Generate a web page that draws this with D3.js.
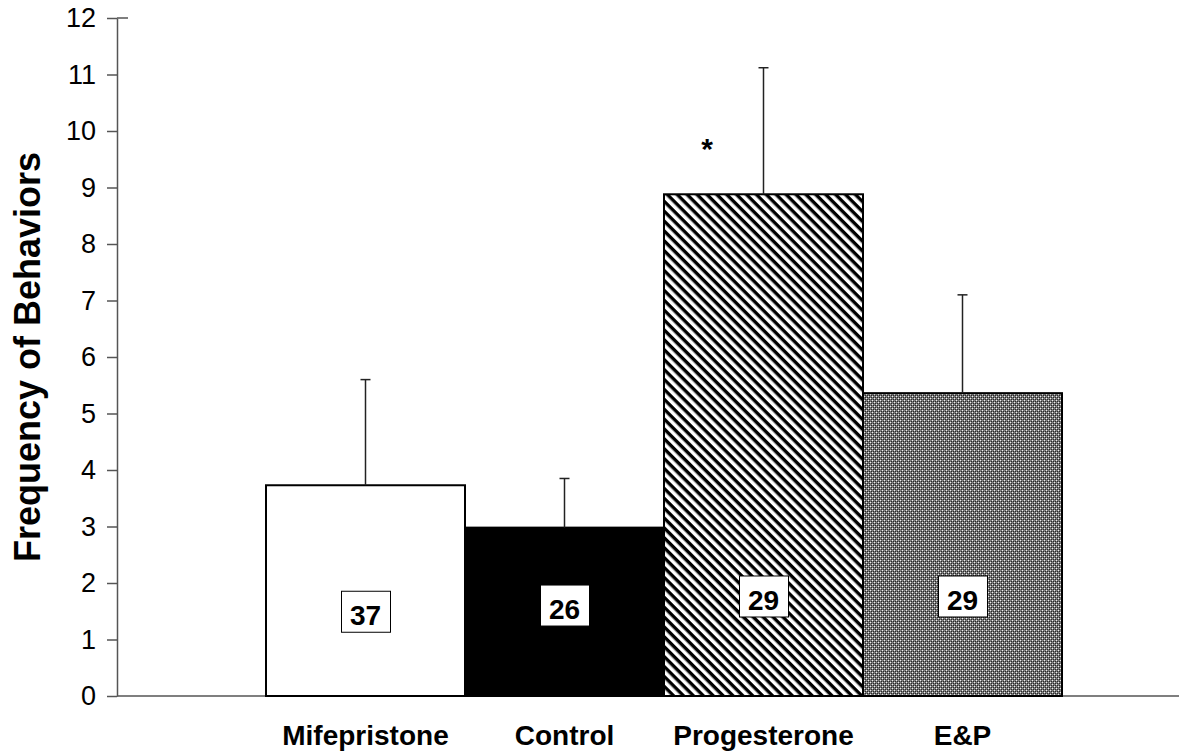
<!DOCTYPE html>
<html>
<head>
<meta charset="utf-8">
<script src="https://cdn.jsdelivr.net/npm/d3@7"></script>
<style>
  body { margin: 0; background: #fff; }
  svg { display: block; font-family: Arial, "Liberation Sans", sans-serif; }
</style>
</head>
<body>
<div id="chart"></div>
<script>
// chart data
const groups = ['Mifepristone', 'Control', 'Progesterone', 'E&P'];
const means = [3.73, 2.98, 8.88, 5.36];
const sems = [1.87, 0.87, 2.24, 1.74];
const counts = [37, 26, 29, 29];
const yTicks = d3.range(0, 13);
const starGroup = 'Progesterone';

const width = 1179, height = 753;
const fills = ['#fff', '#000', 'url(#hatch)', 'url(#checker)'];
const countLevel = [1.5, 1.61, 1.77, 1.77]; // where the n-boxes sit, in y units

const svg = d3.select('#chart').append('svg')
    .attr('width', width)
    .attr('height', height);

const defs = svg.append('defs');

// diagonal stripes
const hatch = defs.append('pattern')
    .attr('id', 'hatch')
    .attr('patternUnits', 'userSpaceOnUse')
    .attr('width', 10)
    .attr('height', 7)
    .attr('patternTransform', 'rotate(45)');
hatch.append('rect').attr('width', 10).attr('height', 7).attr('fill', '#fff');
hatch.append('rect').attr('width', 10).attr('height', 3.4).attr('fill', '#000');

// fine checker (grey look)
const checker = defs.append('pattern')
    .attr('id', 'checker')
    .attr('patternUnits', 'userSpaceOnUse')
    .attr('width', 4)
    .attr('height', 4);
checker.append('rect').attr('width', 4).attr('height', 4).attr('fill', '#7a7a7a');
[[0, 0], [2, 2]].forEach(p => {
    checker.append('rect').attr('x', p[0]).attr('y', p[1]).attr('width', 1).attr('height', 1).attr('fill', '#eee');
});
[[1, 1], [3, 3], [1, 3], [3, 1]].forEach(p => {
    checker.append('rect').attr('x', p[0]).attr('y', p[1]).attr('width', 1).attr('height', 1).attr('fill', '#2a2a2a');
});

const y = d3.scaleLinear().domain([0, 12]).range([696, 18]);
const x = d3.scaleBand().domain(groups).range([266, 1062]).padding(0);
const axisLeft = 117;

// y axis
const yAxis = svg.append('g')
    .attr('transform', `translate(${axisLeft},0)`)
    .call(d3.axisLeft(y).tickValues(yTicks).tickSize(10).tickSizeOuter(0).tickPadding(11));
yAxis.select('.domain').attr('stroke', '#555').attr('stroke-width', 1.5);
yAxis.selectAll('.tick line').attr('stroke', '#555').attr('stroke-width', 1.5);
yAxis.selectAll('.tick text')
    .attr('font-size', 27)
    .attr('fill', '#000')
    .attr('font-family', 'Arial, "Liberation Sans", sans-serif');
// top tick crosses the axis
svg.append('line')
    .attr('x1', axisLeft).attr('x2', axisLeft + 11)
    .attr('y1', y(12)).attr('y2', y(12))
    .attr('stroke', '#555').attr('stroke-width', 1.5);

// x baseline
svg.append('line')
    .attr('x1', axisLeft).attr('x2', width)
    .attr('y1', y(0)).attr('y2', y(0))
    .attr('stroke', '#555').attr('stroke-width', 1.5);

// bars
svg.append('g').selectAll('rect')
    .data(groups)
    .enter()
    .append('rect')
    .attr('x', d => x(d))
    .attr('y', (d, i) => y(means[i]))
    .attr('width', x.bandwidth())
    .attr('height', (d, i) => y(0) - y(means[i]))
    .attr('fill', (d, i) => fills[i])
    .attr('stroke', '#000')
    .attr('stroke-width', 2);

// error bars (upper only)
const err = svg.append('g').selectAll('g')
    .data(groups)
    .enter()
    .append('g');
err.append('line')
    .attr('x1', d => x(d) + x.bandwidth() / 2)
    .attr('x2', d => x(d) + x.bandwidth() / 2)
    .attr('y1', (d, i) => y(means[i]))
    .attr('y2', (d, i) => y(means[i] + sems[i]))
    .attr('stroke', '#222').attr('stroke-width', 1.5);
err.append('line')
    .attr('x1', d => x(d) + x.bandwidth() / 2 - 5)
    .attr('x2', d => x(d) + x.bandwidth() / 2 + 5)
    .attr('y1', (d, i) => y(means[i] + sems[i]))
    .attr('y2', (d, i) => y(means[i] + sems[i]))
    .attr('stroke', '#222').attr('stroke-width', 1.5);

// n boxes
const boxes = svg.append('g').selectAll('g')
    .data(groups)
    .enter()
    .append('g')
    .attr('transform', (d, i) => `translate(${x(d) + x.bandwidth() / 2},${y(countLevel[i])})`);
boxes.append('rect')
    .attr('x', -24).attr('y', -20)
    .attr('width', 49).attr('height', 41)
    .attr('fill', '#fff')
    .attr('stroke', '#000').attr('stroke-width', 1);
boxes.append('text')
    .attr('text-anchor', 'middle')
    .attr('y', 14)
    .attr('font-size', 28)
    .attr('font-weight', 'bold')
    .text((d, i) => counts[i]);

// significance star
svg.append('text')
    .attr('x', x(starGroup) + 43)
    .attr('y', y(9.5))
    .attr('text-anchor', 'middle')
    .attr('font-size', 30)
    .attr('font-weight', 'bold')
    .text('*');

// category labels
svg.append('g').selectAll('text')
    .data(groups)
    .enter()
    .append('text')
    .attr('x', d => x(d) + x.bandwidth() / 2)
    .attr('y', 745)
    .attr('text-anchor', 'middle')
    .attr('font-size', 28)
    .attr('font-weight', 'bold')
    .text(d => d);

// y title
svg.append('text')
    .attr('transform', `translate(40,${(y(0) + y(12)) / 2}) rotate(-90)`)
    .attr('text-anchor', 'middle')
    .attr('font-size', 36)
    .attr('font-weight', 'bold')
    .text('Frequency of Behaviors');
</script>
</body>
</html>
